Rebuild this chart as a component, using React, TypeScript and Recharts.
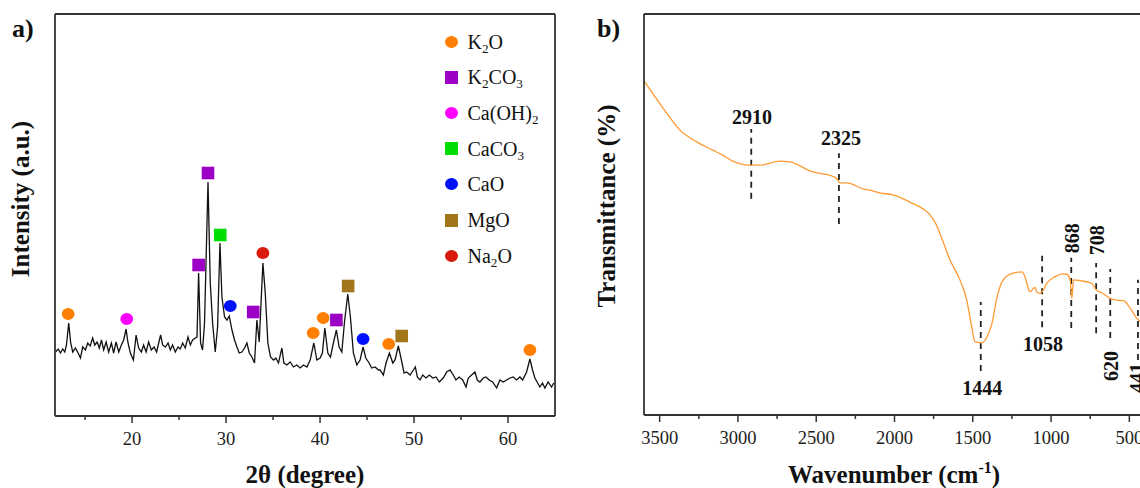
import {
  ComposedChart,
  Legend,
  Line,
  LineChart,
  ReferenceDot,
  ReferenceLine,
  Scatter,
  XAxis,
  YAxis,
} from "recharts";

const SERIF = '"Liberation Serif", "Times New Roman", serif';
const AXIS = "#333";

// a) XRD pattern: [2θ (deg), intensity (a.u.)]
const xrdPattern: [number, number][] = [
  [11.85, 64], [12.14, 67], [12.38, 63], [12.62, 67], [12.84, 64], [13.02, 71], [13.26, 93], [13.47, 73],
  [13.69, 64], [13.97, 68], [14.26, 63], [14.51, 58], [14.75, 69], [15.04, 66], [15.28, 73], [15.54, 70],
  [15.81, 78], [16.03, 71], [16.28, 74], [16.52, 68], [16.74, 76], [16.98, 66], [17.24, 74], [17.51, 64],
  [17.8, 73], [18.04, 63], [18.3, 74], [18.58, 64], [18.86, 71], [19.11, 76], [19.36, 87], [19.57, 73],
  [19.82, 63], [20.14, 56], [20.43, 81], [20.7, 68], [20.99, 64], [21.23, 71], [21.49, 64], [21.76, 74],
  [22.05, 66], [22.34, 69], [22.61, 64], [22.83, 73], [23.04, 81], [23.25, 71], [23.54, 69], [23.83, 73],
  [24.07, 66], [24.31, 71], [24.6, 64], [24.89, 69], [25.13, 67], [25.38, 73], [25.66, 68], [25.95, 79],
  [26.2, 71], [26.44, 76], [26.73, 78], [26.91, 79], [27.08, 143], [27.29, 73], [27.5, 66], [27.71, 93],
  [28.08, 234], [28.32, 133], [28.57, 93], [28.85, 64], [29.1, 89], [29.35, 173], [29.56, 119], [29.84, 99],
  [30.1, 96], [30.34, 100], [30.63, 86], [30.9, 76], [31.16, 69], [31.4, 63], [31.69, 64], [31.97, 68],
  [32.22, 73], [32.47, 63], [32.75, 59], [33.03, 53], [33.28, 96], [33.53, 74], [33.92, 153], [34.17, 123],
  [34.45, 73], [34.73, 59], [35.05, 56], [35.3, 58], [35.58, 53], [35.94, 68], [36.15, 53], [36.47, 51],
  [36.82, 54], [37.17, 49], [37.53, 51], [37.89, 48], [38.24, 51], [38.6, 49], [38.95, 56], [39.34, 73],
  [39.66, 56], [40.01, 58], [40.25, 63], [40.51, 88], [40.83, 63], [41.11, 59], [41.42, 73], [41.74, 86],
  [42.03, 69], [42.32, 64], [42.59, 93], [42.95, 122], [43.23, 99], [43.55, 63], [43.91, 51], [44.26, 56],
  [44.58, 69], [44.87, 58], [45.22, 53], [45.5, 48], [45.86, 49], [46.21, 46], [46.39, 46], [46.74, 41],
  [47.02, 53], [47.38, 63], [47.74, 53], [47.98, 56], [48.33, 70], [48.59, 59], [48.94, 43], [49.22, 44],
  [49.58, 41], [49.93, 46], [50.14, 49], [50.35, 39], [50.64, 36], [50.92, 41], [51.28, 38], [51.63, 41],
  [51.99, 38], [52.34, 39], [52.69, 34], [53.11, 38], [53.48, 44], [53.83, 46], [54.18, 41], [54.46, 36],
  [54.81, 39], [55.18, 36], [55.53, 29], [55.77, 38], [56.13, 41], [56.48, 44], [56.73, 36], [57.01, 34],
  [57.37, 38], [57.65, 39], [58.0, 36], [58.36, 34], [58.79, 28], [59.14, 36], [59.49, 34], [59.85, 36],
  [60.2, 38], [60.55, 39], [60.91, 36], [61.26, 39], [61.55, 36], [61.98, 44], [62.33, 57], [62.61, 46],
  [62.86, 38], [63.1, 34], [63.39, 29], [63.67, 33], [63.92, 28], [64.27, 34], [64.63, 29], [64.87, 33],
];

// phase markers placed above the peaks: [2θ, height]
const phaseNames = ["K2O", "K2CO3", "Ca(OH)2", "CaCO3", "CaO", "MgO", "Na2O"];
const k2oPeaks = [[13.2, 102], [39.27, 83], [40.33, 98], [47.31, 72], [62.33, 66]];
const k2co3Peaks = [[27.08, 151], [28.08, 243], [32.89, 104], [41.74, 96]];
const caOH2Peaks = [[19.43, 97]];
const caco3Peaks = [[29.38, 181]];
const caoPeaks = [[30.45, 110], [44.58, 77]];
const mgoPeaks = [[42.99, 130], [48.69, 80]];
const na2oPeaks = [[33.92, 163]];
const phasePeaks = [k2oPeaks, k2co3Peaks, caOH2Peaks, caco3Peaks, caoPeaks, mgoPeaks, na2oPeaks];

const PHASE_STYLE = [
  { color: "#FF8000", shape: "circle" },
  { color: "#9B00C4", shape: "square" },
  { color: "#FF00FF", shape: "circle" },
  { color: "#00DD00", shape: "square" },
  { color: "#0010FF", shape: "circle" },
  { color: "#A2761A", shape: "square" },
  { color: "#DB1A0E", shape: "circle" },
];

const xrdTicks = [15, 20, 25, 30, 35, 40, 45, 50, 55, 60];

// b) FTIR spectrum: [wavenumber (cm-1), transmittance]
const ftirSpectrum: [number, number][] = [
  [3600, 83.3], [3483, 76.8], [3372, 71.1], [3263, 68.1], [3163, 66.1], [3097, 64.8], [3033, 63.3],
  [2924, 62.3], [2860, 62.3], [2732, 63.3], [2668, 63.1], [2521, 60.6], [2400, 59.6], [2365, 58.8],
  [2350, 57.9], [2304, 57.9], [2202, 56.4], [2139, 55.9], [2094, 55.4], [2010, 54.9], [1902, 53.1],
  [1818, 51.4], [1773, 49.9], [1735, 47.6], [1690, 43.2], [1646, 38.7], [1582, 33.7],
  [1539, 28.7], [1507, 22.0], [1486, 18.3], [1441, 18.0], [1409, 19.5], [1377, 22.9], [1345, 29.4],
  [1306, 33.7], [1242, 35.4], [1185, 35.7], [1166, 34.4], [1145, 31.5], [1134, 30.7], [1113, 31.6],
  [1102, 31.8], [1091, 30.7], [1070, 30.3], [1049, 31.2], [1027, 32.8], [974, 34.5], [931, 35.2],
  [899, 35.1], [878, 33.7], [867, 29.1], [857, 33.7], [814, 33.5], [739, 32.8], [712, 31.2], [676, 30.5],
  [622, 29.1], [590, 28.7], [537, 28.5], [494, 26.6], [452, 24.1], [431, 23.3], [400, 20.0],
];

const ftirTicks = [3500, 3250, 3000, 2750, 2500, 2250, 2000, 1750, 1500, 1250, 1000, 750, 500];

// band markers: dashed line span and label spot
const bandLabels = ["2910", "2325", "1444", "1058", "868", "708", "620", "441"];
const bandLineX = [2915, 2355, 1449, 1057, 871, 712, 622, 445];
const bandLineFrom = [53.9, 47.6, 11.0, 21.9, 21.7, 20.4, 19.2, 13.7];
const bandLineTo = [71.3, 65.3, 28.2, 39.7, 39.2, 37.9, 36.4, 33.7];
const bandTextX = [2910, 2342, 1440, 1052, 867, 706, 616, 448];
const bandTextY = [74.3, 69.1, 6.7, 17.7, 44.1, 43.6, 12.2, 9.2];
const bandVertical = [false, false, false, false, true, true, true, true];

function Formula({ text }: { text: string }) {
  return (
    <>
      {text.split(/(\d+)/).map((p, i) =>
        /^\d+$/.test(p) ? (
          <sub key={i} style={{ fontSize: "0.66em", verticalAlign: "-0.32em", lineHeight: 0 }}>
            {p}
          </sub>
        ) : (
          <span key={i}>{p}</span>
        ),
      )}
    </>
  );
}

function AxisTick({ x, y, payload, step }: any) {
  const major = payload.value % step === 0;
  return (
    <g>
      <line x1={x} x2={x} y1={y} y2={y + (major ? 7 : 4)} stroke={AXIS} strokeWidth={1.5} />
      {major && (
        <text x={x} y={y + 29} textAnchor="middle" fontFamily={SERIF} fontSize={18.5} fill="#222">
          {payload.value}
        </text>
      )}
    </g>
  );
}

function PhaseMarker({ cx, cy, color, shape }: any) {
  if (shape === "circle") return <ellipse cx={cx} cy={cy} rx={6.4} ry={6} fill={color} />;
  return <rect x={cx - 6.3} y={cy - 6.3} width={12.6} height={12.6} fill={color} />;
}

function PhaseLegend() {
  return (
    <div style={{ fontFamily: SERIF, fontSize: 20, color: "#111" }}>
      {phaseNames.map((name, i) => (
        <div key={name} style={{ height: 35.7, display: "flex", alignItems: "center" }}>
          <span
            style={{
              width: 13,
              height: PHASE_STYLE[i].shape === "circle" ? 12 : 13,
              background: PHASE_STYLE[i].color,
              borderRadius: PHASE_STYLE[i].shape === "circle" ? "50%" : 0,
              marginRight: 10,
              flex: "none",
            }}
          />
          <span style={{ lineHeight: 1, whiteSpace: "nowrap" }}>
            <Formula text={name} />
          </span>
        </div>
      ))}
    </div>
  );
}

export default function App() {
  const xrdData = xrdPattern.map(([x, y]) => ({ x, y }));
  const ftirData = ftirSpectrum.map(([x, y]) => ({ x, y }));

  return (
    <div
      style={{
        position: "absolute",
        left: 0,
        top: 0,
        width: 1140,
        height: 488,
        overflow: "hidden",
        background: "#fff",
      }}
    >
      <div style={{ position: "absolute", left: 0, top: 0 }}>
        <ComposedChart
          width={580}
          height={488}
          data={xrdData}
          margin={{ top: 14, right: 25, bottom: 42, left: 45 }}
        >
          <XAxis
            type="number"
            dataKey="x"
            domain={[11.8, 65]}
            ticks={xrdTicks}
            interval={0}
            allowDataOverflow
            height={30}
            tickSize={0}
            tickMargin={0}
            tickLine={false}
            axisLine={{ stroke: AXIS, strokeWidth: 1.8 }}
            tick={(p: any) => <AxisTick {...p} step={10} />}
          />
          <YAxis
            type="number"
            dataKey="y"
            domain={[0, 402]}
            width={10}
            tick={false}
            tickLine={false}
            axisLine={{ stroke: AXIS, strokeWidth: 1.8 }}
          />
          <ReferenceLine y={402} stroke={AXIS} strokeWidth={1.8} />
          <ReferenceLine x={65} stroke={AXIS} strokeWidth={1.8} />
          <Line
            type="linear"
            dataKey="y"
            stroke="#111"
            strokeWidth={1.3}
            dot={false}
            isAnimationActive={false}
            legendType="none"
          />
          {phasePeaks.map((peaks, i) => (
            <Scatter
              key={phaseNames[i]}
              name={phaseNames[i]}
              data={peaks.map(([x, y]) => ({ x, y }))}
              isAnimationActive={false}
              legendType="none"
              shape={(p: any) => (
                <PhaseMarker cx={p.cx} cy={p.cy} color={PHASE_STYLE[i].color} shape={PHASE_STYLE[i].shape} />
              )}
            />
          ))}
          <Legend
            layout="vertical"
            align="center"
            verticalAlign="middle"
            content={() => <PhaseLegend />}
            wrapperStyle={{ left: 444.5, top: 23.9, width: 130, height: 250 }}
          />
        </ComposedChart>
      </div>

      <div style={{ position: "absolute", left: 590, top: 0 }}>
        <LineChart
          width={600}
          height={488}
          data={ftirData}
          margin={{ top: 14, right: 45, bottom: 43, left: 44 }}
        >
          <XAxis
            type="number"
            dataKey="x"
            domain={[400, 3600]}
            reversed
            ticks={ftirTicks}
            interval={0}
            height={30}
            tickSize={0}
            tickMargin={0}
            tickLine={false}
            axisLine={{ stroke: AXIS, strokeWidth: 1.8 }}
            tick={(p: any) => <AxisTick {...p} step={500} />}
          />
          <YAxis
            type="number"
            dataKey="y"
            domain={[0, 100]}
            width={10}
            tick={false}
            tickLine={false}
            axisLine={{ stroke: AXIS, strokeWidth: 1.8 }}
          />
          <ReferenceLine y={100} stroke={AXIS} strokeWidth={1.8} />
          <ReferenceLine x={400} stroke={AXIS} strokeWidth={1.8} />
          {bandLabels.map((b, i) => (
            <ReferenceLine
              key={"l" + b}
              segment={[
                { x: bandLineX[i], y: bandLineFrom[i] },
                { x: bandLineX[i], y: bandLineTo[i] },
              ]}
              stroke="#222"
              strokeWidth={1.8}
              strokeDasharray="6 5"
            />
          ))}
          <Line
            type="monotone"
            dataKey="y"
            stroke="#FF9A33"
            strokeWidth={1.3}
            dot={false}
            isAnimationActive={false}
          />
          {bandLabels.map((b, i) => (
            <ReferenceDot
              key={"t" + b}
              x={bandTextX[i]}
              y={bandTextY[i]}
              r={0}
              shape={(p: any) => (
                <text
                  x={p.cx}
                  y={p.cy}
                  textAnchor="middle"
                  dominantBaseline="central"
                  transform={bandVertical[i] ? `rotate(-90 ${p.cx} ${p.cy})` : undefined}
                  fontFamily={SERIF}
                  fontWeight="bold"
                  fontSize={20}
                  fill="#111"
                >
                  {b}
                </text>
              )}
            />
          ))}
        </LineChart>
      </div>

      <svg
        width={1140}
        height={488}
        style={{ position: "absolute", left: 0, top: 0, pointerEvents: "none" }}
        fontFamily={SERIF}
        fontWeight="bold"
        fill="#111"
      >
        <text x={12} y={37} fontSize={26}>a)</text>
        <text x={597} y={37} fontSize={26}>b)</text>
        <text transform="translate(29 199) rotate(-90)" textAnchor="middle" fontSize={25}>
          Intensity (a.u.)
        </text>
        <text transform="translate(615 206) rotate(-90)" textAnchor="middle" fontSize={25}>
          Transmittance (%)
        </text>
        <text x={305} y={483} textAnchor="middle" fontSize={25}>
          2θ (degree)
        </text>
        <text x={894} y={483} textAnchor="middle" fontSize={25}>
          Wavenumber (cm
          <tspan fontSize={16} dy={-10}>-1</tspan>
          <tspan dy={10}>)</tspan>
        </text>
      </svg>
    </div>
  );
}
